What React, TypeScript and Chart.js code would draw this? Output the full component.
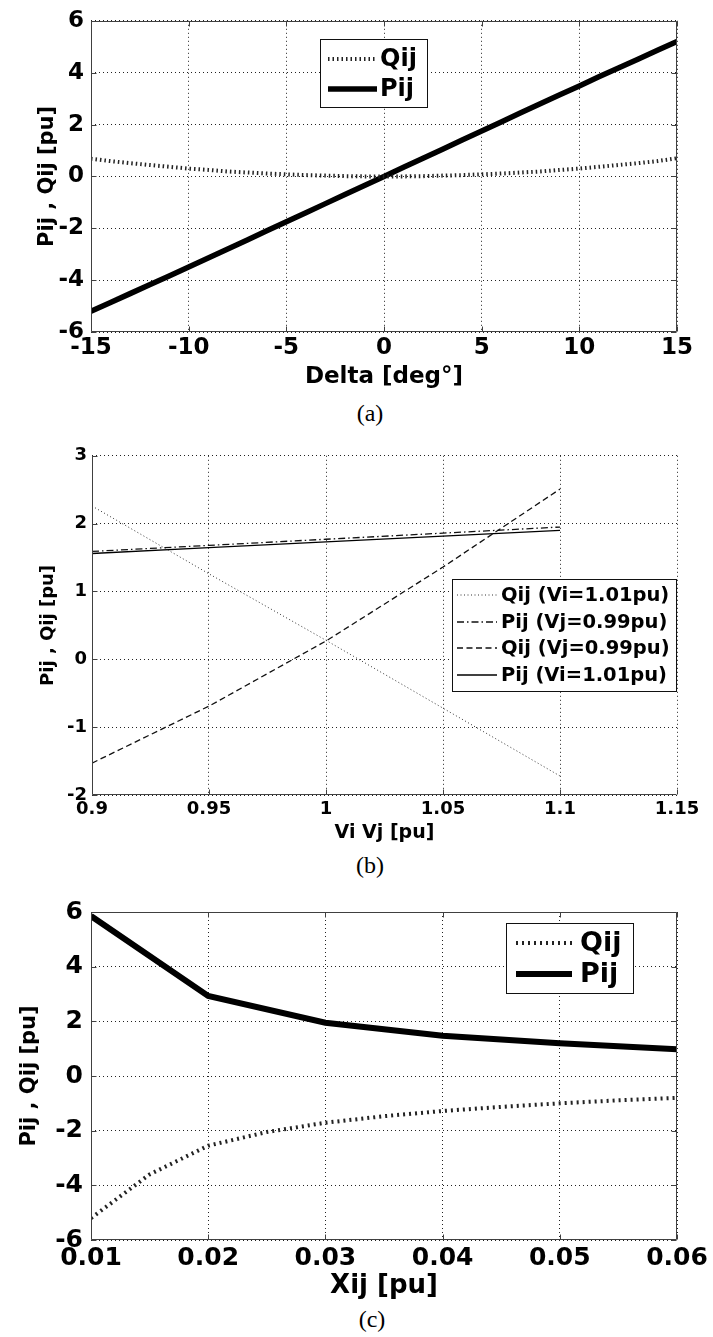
import React, { useEffect, useRef } from 'react';
import { Chart, registerables } from 'chart.js';

Chart.register(...registerables);

const FONT = '"DejaVu Sans", "Liberation Sans", Arial, sans-serif';
const SERIF = '"Liberation Serif", "Times New Roman", serif';
const GRID = '#222';
const AXIS = '#404040';
const TICK = 5;

// ---------- Panel (a): Pij, Qij vs Delta ----------
const deltaDeg = [-15, -14, -13, -12, -11, -10, -9, -8, -7, -6, -5, -4, -3, -2, -1, 0, 1, 2, 3, 4, 5, 6, 7, 8, 9, 10, 11, 12, 13, 14, 15];
const pijDelta = [-5.2, -4.86, -4.52, -4.18, -3.84, -3.49, -3.15, -2.8, -2.45, -2.1, -1.75, -1.4, -1.05, -0.7, -0.35, 0, 0.35, 0.7, 1.05, 1.4, 1.75, 2.1, 2.45, 2.8, 3.15, 3.49, 3.84, 4.18, 4.52, 4.86, 5.2];
const qijDelta = [0.68, 0.59, 0.51, 0.44, 0.37, 0.3, 0.25, 0.19, 0.15, 0.11, 0.08, 0.05, 0.03, 0.01, 0.0, 0.0, 0.0, 0.01, 0.03, 0.05, 0.08, 0.11, 0.15, 0.19, 0.25, 0.3, 0.37, 0.44, 0.51, 0.59, 0.7];
const deltaTicks = [-15, -10, -5, 0, 5, 10, 15];
const deltaTickLabels = ['-15', '-10', '-5', '0', '5', '10', '15'];
const yTicksA = [-6, -4, -2, 0, 2, 4, 6];
const yTickLabelsA = ['-6', '-4', '-2', '0', '2', '4', '6'];

// ---------- Panel (b): Pij, Qij vs Vi Vj ----------
const vPu = [0.9, 0.95, 1.0, 1.05, 1.1];
const qijViFixed = [2.26, 1.26, 0.28, -0.72, -1.72];
const pijVjFixed = [1.59, 1.68, 1.77, 1.86, 1.95];
const qijVjFixed = [-1.53, -0.69, 0.27, 1.36, 2.51];
const pijViFixed = [1.56, 1.645, 1.73, 1.815, 1.9];
const vTicks = [0.9, 0.95, 1.0, 1.05, 1.1, 1.15];
const vTickLabels = ['0.9', '0.95', '1', '1.05', '1.1', '1.15'];
const yTicksB = [-2, -1, 0, 1, 2, 3];
const yTickLabelsB = ['-2', '-1', '0', '1', '2', '3'];

// ---------- Panel (c): Pij, Qij vs Xij ----------
const xijP = [0.01, 0.02, 0.03, 0.04, 0.05, 0.06];
const pijX = [5.85, 2.93, 1.95, 1.47, 1.2, 0.98];
const xijQ = [0.01, 0.015, 0.02, 0.025, 0.03, 0.035, 0.04, 0.045, 0.05, 0.055, 0.06];
const qijX = [-5.2, -3.6, -2.55, -2.05, -1.71, -1.47, -1.28, -1.13, -1.0, -0.89, -0.8];
const xijTicks = [0.01, 0.02, 0.03, 0.04, 0.05, 0.06];
const xijTickLabels = ['0.01', '0.02', '0.03', '0.04', '0.05', '0.06'];
const yTicksC = [-6, -4, -2, 0, 2, 4, 6];
const yTickLabelsC = ['-6', '-4', '-2', '0', '2', '4', '6'];

const pts = (xs: number[], ys: number[]) => xs.map((x, i) => ({ x, y: ys[i] }));

type Legend = { x: number; y: number; w: number; h: number; rows: number[]; sx1: number; sx2: number; tx: number; font: number };

type Panel = {
  top: number; width: number; height: number;
  padding: { top: number; right: number; bottom: number; left: number };
  yAxisWidth: number; xAxisHeight: number;
  xMin: number; xMax: number; yMin: number; yMax: number;
  xTicks: number[]; xTickLabels: string[]; yTicks: number[]; yTickLabels: string[];
  tickFont: number; xTickPad: number; yTickPad: number;
  xTitle: string; xTitleFont: number; yTitle: string; yTitleFont: number; yTitlePad: number;
  box: boolean; legend: Legend; datasets: any[];
};

function framePlugin(p: Panel) {
  return {
    id: 'frame',
    afterDraw(chart: any) {
      const { ctx, chartArea: a } = chart;
      const xs = chart.scales.x;
      const ys = chart.scales.y;
      ctx.save();
      ctx.setLineDash([]);
      ctx.strokeStyle = AXIS;
      ctx.lineWidth = 1;
      const L = Math.round(a.left) + 0.5;
      const R = Math.round(a.right) - 0.5;
      const T = Math.round(a.top) + 0.5;
      const B = Math.round(a.bottom) - 0.5;
      ctx.beginPath();
      if (p.box) {
        ctx.rect(L, T, R - L, B - T);
      } else {
        ctx.moveTo(L, T);
        ctx.lineTo(L, B);
        ctx.lineTo(R, B);
      }
      ctx.stroke();
      ctx.beginPath();
      p.xTicks.forEach((v) => {
        const x = Math.round(xs.getPixelForValue(v)) + 0.5;
        ctx.moveTo(x, B);
        ctx.lineTo(x, B - TICK);
        if (p.box) { ctx.moveTo(x, T); ctx.lineTo(x, T + TICK); }
      });
      p.yTicks.forEach((v) => {
        const y = Math.round(ys.getPixelForValue(v)) + 0.5;
        ctx.moveTo(L, y);
        ctx.lineTo(L + TICK, y);
        if (p.box) { ctx.moveTo(R, y); ctx.lineTo(R - TICK, y); }
      });
      ctx.stroke();

      const lg = p.legend;
      ctx.fillStyle = '#fff';
      ctx.fillRect(lg.x, lg.y, lg.w, lg.h);
      ctx.strokeStyle = '#111';
      ctx.strokeRect(lg.x + 0.5, lg.y + 0.5, lg.w, lg.h);
      ctx.font = `bold ${lg.font}px ${FONT}`;
      ctx.textBaseline = 'middle';
      ctx.textAlign = 'left';
      lg.rows.forEach((ry, i) => {
        const ds = chart.data.datasets[i];
        ctx.save();
        ctx.setLineDash(ds.borderDash || []);
        ctx.lineWidth = ds.borderWidth;
        ctx.strokeStyle = ds.borderColor;
        ctx.lineCap = 'butt';
        ctx.beginPath();
        ctx.moveTo(lg.sx1, ry);
        ctx.lineTo(lg.sx2, ry);
        ctx.stroke();
        ctx.restore();
        ctx.fillStyle = '#000';
        ctx.fillText(ds.label, lg.tx, ry + 1);
      });
      ctx.restore();
    },
  };
}

function buildConfig(p: Panel): any {
  const bold = (size: number) => ({ family: FONT, size, weight: 'bold' as const });
  return {
    type: 'line',
    data: { datasets: p.datasets },
    plugins: [framePlugin(p)],
    options: {
      responsive: false,
      animation: false,
      events: [],
      layout: { padding: p.padding },
      plugins: { legend: { display: false }, tooltip: { enabled: false }, title: { display: false } },
      elements: { point: { radius: 0 }, line: { tension: 0 } },
      scales: {
        x: {
          type: 'linear',
          min: p.xMin,
          max: p.xMax,
          afterBuildTicks: (s: any) => { s.ticks = p.xTicks.map((v) => ({ value: v })); },
          afterFit: (s: any) => { s.height = p.xAxisHeight; },
          ticks: {
            autoSkip: false, maxRotation: 0, minRotation: 0, padding: p.xTickPad, color: '#000',
            font: bold(p.tickFont),
            callback: (_v: any, i: number) => p.xTickLabels[i],
          },
          grid: { color: GRID, lineWidth: 1, drawTicks: false },
          border: { display: false, dash: [1, 3] },
          title: { display: true, text: p.xTitle, color: '#000', padding: 0, font: bold(p.xTitleFont) },
        },
        y: {
          type: 'linear',
          min: p.yMin,
          max: p.yMax,
          afterBuildTicks: (s: any) => { s.ticks = p.yTicks.map((v) => ({ value: v })); },
          afterFit: (s: any) => { s.width = p.yAxisWidth; },
          ticks: {
            autoSkip: false, padding: p.yTickPad, color: '#000',
            font: bold(p.tickFont),
            callback: (_v: any, i: number) => p.yTickLabels[i],
          },
          grid: { color: GRID, lineWidth: 1, drawTicks: false },
          border: { display: false, dash: [1, 3] },
          title: { display: true, text: p.yTitle, color: '#000', padding: { top: p.yTitlePad, bottom: 0 }, font: bold(p.yTitleFont) },
        },
      },
    },
  };
}

const panelA: Panel = {
  top: 0, width: 713, height: 391,
  padding: { top: 19, right: 36, bottom: 0, left: 0 },
  yAxisWidth: 91, xAxisHeight: 59,
  xMin: -15, xMax: 15, yMin: -6, yMax: 6,
  xTicks: deltaTicks, xTickLabels: deltaTickLabels, yTicks: yTicksA, yTickLabels: yTickLabelsA,
  tickFont: 23, xTickPad: 2, yTickPad: 7,
  xTitle: 'Delta [deg°]', xTitleFont: 23, yTitle: 'Pij , Qij [pu]', yTitleFont: 21, yTitlePad: 35,
  box: true,
  legend: { x: 320, y: 39, w: 107, h: 68, rows: [59, 89], sx1: 328, sx2: 377, tx: 380, font: 24 },
  datasets: [
    { label: 'Qij', data: pts(deltaDeg, qijDelta), borderColor: '#222', borderWidth: 4, borderDash: [1.5, 3], fill: false },
    { label: 'Pij', data: pts(deltaDeg, pijDelta), borderColor: '#000', borderWidth: 5.5, fill: false },
  ],
};

const panelB: Panel = {
  top: 440, width: 713, height: 404,
  padding: { top: 15, right: 36, bottom: 0, left: 0 },
  yAxisWidth: 92, xAxisHeight: 49,
  xMin: 0.9, xMax: 1.15, yMin: -2, yMax: 3,
  xTicks: vTicks, xTickLabels: vTickLabels, yTicks: yTicksB, yTickLabels: yTickLabelsB,
  tickFont: 18, xTickPad: 4, yTickPad: 5,
  xTitle: 'Vi Vj [pu]', xTitleFont: 19, yTitle: 'Pij , Qij [pu]', yTitleFont: 18, yTitlePad: 38,
  box: false,
  legend: { x: 452, y: 139, w: 224, h: 112, rows: [155, 182, 208, 235], sx1: 457, sx2: 497, tx: 501, font: 19.5 },
  datasets: [
    { label: 'Qij (Vi=1.01pu)', data: pts(vPu, qijViFixed), borderColor: '#333', borderWidth: 1, borderDash: [1, 2.5], fill: false },
    { label: 'Pij (Vj=0.99pu)', data: pts(vPu, pijVjFixed), borderColor: '#111', borderWidth: 1.3, borderDash: [7, 3, 1.5, 3], fill: false },
    { label: 'Qij (Vj=0.99pu)', data: pts(vPu, qijVjFixed), borderColor: '#111', borderWidth: 1.3, borderDash: [6, 3.5], fill: false },
    { label: 'Pij (Vi=1.01pu)', data: pts(vPu, pijViFixed), borderColor: '#000', borderWidth: 1.3, fill: false },
  ],
};

const panelC: Panel = {
  top: 880, width: 713, height: 422,
  padding: { top: 32, right: 36, bottom: 0, left: 0 },
  yAxisWidth: 91, xAxisHeight: 62,
  xMin: 0.01, xMax: 0.06, yMin: -6, yMax: 6,
  xTicks: xijTicks, xTickLabels: xijTickLabels, yTicks: yTicksC, yTickLabels: yTickLabelsC,
  tickFont: 25, xTickPad: 3, yTickPad: 8,
  xTitle: 'Xij [pu]', xTitleFont: 26, yTitle: 'Pij , Qij [pu]', yTitleFont: 21, yTitlePad: 17,
  box: true,
  legend: { x: 506, y: 43, w: 127, h: 70, rows: [63, 94], sx1: 516, sx2: 572, tx: 580, font: 27 },
  datasets: [
    { label: 'Qij', data: pts(xijQ, qijX), borderColor: '#222', borderWidth: 4, borderDash: [2, 4], fill: false },
    { label: 'Pij', data: pts(xijP, pijX), borderColor: '#000', borderWidth: 6, fill: false },
  ],
};

function PanelChart({ panel }: { panel: Panel }) {
  const ref = useRef<HTMLCanvasElement | null>(null);
  useEffect(() => {
    if (!ref.current) return;
    const chart = new Chart(ref.current, buildConfig(panel));
    return () => chart.destroy();
  }, [panel]);
  return (
    <div style={{ position: 'absolute', left: 0, top: panel.top, width: panel.width, height: panel.height }}>
      <canvas ref={ref} width={panel.width} height={panel.height} style={{ width: panel.width, height: panel.height, display: 'block' }} />
    </div>
  );
}

function Caption({ text, cx, cy }: { text: string; cx: number; cy: number }) {
  return (
    <div
      style={{
        position: 'absolute', left: cx - 40, top: cy - 15, width: 80, height: 30,
        lineHeight: '30px', textAlign: 'center', fontFamily: SERIF, fontSize: 24, color: '#000',
      }}
    >
      {text}
    </div>
  );
}

export default function App() {
  return (
    <div style={{ position: 'absolute', left: 0, top: 0, width: 713, height: 1337, background: '#fff', overflow: 'hidden' }}>
      <PanelChart panel={panelA} />
      <Caption text="(a)" cx={370} cy={413} />
      <PanelChart panel={panelB} />
      <Caption text="(b)" cx={370} cy={865} />
      <PanelChart panel={panelC} />
      <Caption text="(c)" cx={372} cy={1319} />
    </div>
  );
}
